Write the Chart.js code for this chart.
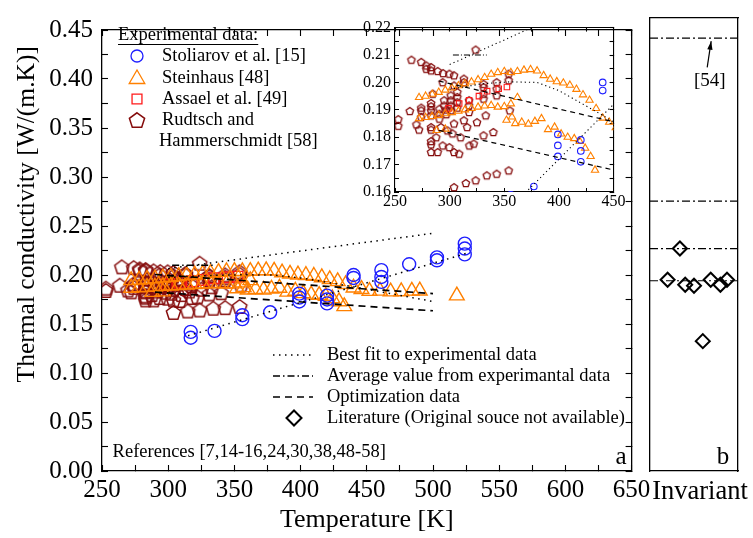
<!DOCTYPE html>
<html>
<head>
<meta charset="utf-8">
<script src="https://cdn.jsdelivr.net/npm/chart.js@4.4.0/dist/chart.umd.min.js"></script>
<style>
  html, body { margin: 0; padding: 0; background: #fff; }
  #wrap { position: relative; width: 753px; height: 538px; overflow: hidden; }
  canvas { position: absolute; }
</style>
</head>
<body>
<div id="wrap">
  <canvas id="mainChart" width="753" height="538" style="left:0;top:0;width:753px;height:538px"></canvas>
  <canvas id="sideChart" width="123" height="538" style="left:630px;top:0;width:123px;height:538px"></canvas>
  <canvas id="insetChart" width="300" height="215" style="left:330px;top:10px;width:300px;height:215px"></canvas>
</div>
<script>
const SERIF = '"Liberation Serif", "Times New Roman", serif';
Chart.defaults.font.family = SERIF;
Chart.defaults.color = '#000';

// Stoliarov et al. [15]
const stoliarovT = [317, 317, 335, 356, 356, 377, 399, 399, 399, 420, 420, 420, 440, 440, 461, 461, 461, 482, 503, 503, 524, 524, 524];
const stoliarovK = [0.142, 0.136, 0.143, 0.159, 0.155, 0.162, 0.181, 0.177, 0.173, 0.179, 0.175, 0.171, 0.200, 0.197, 0.205, 0.198, 0.193, 0.211, 0.218, 0.215, 0.232, 0.227, 0.221];

// Steinhaus [48]
const steinhausT = [272, 278, 284, 290, 296, 302, 308, 314, 320, 326, 332, 338, 344, 350, 356, 362, 368, 374, 380, 386, 392, 398, 404, 410, 416, 422, 428, 434, 440, 446,
  272, 278, 284, 290, 296, 302, 308, 314, 320, 326, 332, 338, 344, 350, 356, 362,
  288, 296, 352, 357, 360, 366, 372, 378, 384, 390, 396, 402, 408, 414, 419, 424, 429, 433,
  452, 460, 468, 476, 484, 490, 518];
const steinhausK = [0.1945, 0.1950, 0.1957, 0.1964, 0.1972, 0.1980, 0.1988, 0.1995, 0.2002, 0.2010, 0.2018, 0.2030, 0.2036, 0.2040, 0.2036, 0.2040, 0.2045, 0.2047, 0.2042, 0.2025, 0.2012, 0.2003, 0.1998, 0.1990, 0.1975, 0.1955, 0.1935, 0.1905, 0.1870, 0.1855,
  0.1868, 0.1872, 0.1876, 0.1880, 0.1886, 0.1890, 0.1895, 0.1900, 0.1905, 0.1910, 0.1914, 0.1916, 0.1910, 0.1912, 0.1922, 0.1945,
  0.1825, 0.1830, 0.1862, 0.1874, 0.1850, 0.1855, 0.1848, 0.1858, 0.1868, 0.1828, 0.1837, 0.1812, 0.1800, 0.1795, 0.1785, 0.1760, 0.1730, 0.1680,
  0.1835, 0.1838, 0.1830, 0.1832, 0.1838, 0.1840, 0.1790];

// Assael et al. [49]
const assaelT = [299, 308.7, 317.8, 326.8, 334.3, 344.9, 352.4];
const assaelK = [0.1905, 0.1923, 0.1935, 0.1950, 0.1968, 0.1977, 0.1983];

// Rudtsch and Hammerschmidt [58]
const rudtschT = [253, 253, 263.5, 265, 269.6, 272, 274, 274, 274, 274, 278.6, 278.6, 283, 283, 283, 283, 283, 283, 283, 283, 283, 283, 283, 284.6, 289, 289, 287.7, 290.6, 290.6, 290.6, 292, 293.6, 293.6, 294, 295, 295, 297, 297, 298, 299.7, 299.7, 301, 301, 301, 301, 304, 304, 304, 304, 307, 307, 307, 307, 308.7, 304, 313, 313, 313, 316, 314.8, 317.8, 317.8, 317.8, 323.8, 323.8, 325, 331, 331, 331, 331, 331, 334, 333, 340, 343, 343, 343, 343, 354, 354, 355, 322, 318, 302.6, 310, 354];
const rudtschK = [0.1866, 0.1842, 0.1896, 0.2083, 0.1847, 0.1828, 0.1908, 0.1898, 0.1874, 0.2075, 0.2062, 0.2050, 0.2056, 0.2044, 0.1925, 0.1913, 0.1898, 0.1880, 0.1837, 0.1828, 0.1786, 0.1774, 0.1746, 0.1959, 0.2042, 0.1746, 0.1800, 0.1904, 0.1886, 0.1868, 0.1837, 0.2001, 0.1770, 0.2034, 0.1935, 0.1916, 0.1901, 0.1884, 0.1825, 0.1764, 0.2032, 0.1953, 0.1935, 0.1916, 0.1898, 0.2026, 0.1989, 0.1850, 0.1746, 0.1965, 0.1947, 0.1928, 0.1908, 0.1740, 0.1618, 0.2014, 0.2001, 0.1862, 0.1837, 0.1633, 0.1935, 0.1916, 0.1892, 0.2120, 0.1643, 0.1855, 0.1983, 0.1959, 0.1941, 0.1995, 0.1807, 0.1661, 0.1880, 0.1819, 0.2001, 0.1977, 0.1953, 0.1667, 0.2032, 0.2008, 0.1898, 0.1777, 0.1770, 0.1814, 0.1800, 0.1679];

// fitted / average / optimization curves
const fitStoliarovT = [315, 525];
const fitStoliarovK = [0.138, 0.222];
const fitUpperT = [300, 500];
const fitUpperK = [0.2065, 0.2425];
const fitSteinhausT = [300, 330, 355, 380, 400, 420, 440, 470, 500];
const fitSteinhausK = [0.1975, 0.1995, 0.2002, 0.2000, 0.1970, 0.1925, 0.1880, 0.1805, 0.1730];
const averageT = [303, 334];
const averageK = [0.210, 0.210];
const optUpperT = [290, 500];
const optUpperK = [0.2005, 0.181];
const optLowerT = [290, 500];
const optLowerK = [0.1825, 0.1635];

// panel b: temperature-invariant values
const literatureX = [2.0, 3.4, 4.0, 5.0, 6.0, 6.9, 8.0, 8.75];
const literatureK = [0.190, 0.221, 0.185, 0.184, 0.129, 0.190, 0.185, 0.190];
const invariantAvgK = [0.430, 0.268, 0.221, 0.189];

const BLUE = '#1f1fff', ORANGE = '#ff8000', RED = '#ff1a1a', BROWN = '#850c0c';

function pts(xs, ys) { return xs.map((x, i) => ({ x: x, y: ys[i] })); }

function pentagonIcon(r, color, lw) {
  const size = Math.ceil(2 * r + lw + 2);
  const c = document.createElement('canvas');
  c.width = c.height = size;
  const g = c.getContext('2d');
  g.strokeStyle = color;
  g.lineWidth = lw;
  g.beginPath();
  for (let i = 0; i < 5; i++) {
    const a = -Math.PI / 2 + i * 2 * Math.PI / 5;
    const px = size / 2 + r * Math.cos(a), py = size / 2 + r * Math.sin(a) + r * 0.1;
    if (i) g.lineTo(px, py); else g.moveTo(px, py);
  }
  g.closePath();
  g.stroke();
  return c;
}

function markerSets(big) {
  const lw = big ? 1.4 : 1.1;
  function set(label, xs, ys, style, r, color, w) {
    return {
      label: label, data: pts(xs, ys), pointStyle: style, pointRadius: r,
      borderColor: color, pointBorderColor: color, backgroundColor: 'rgba(0,0,0,0)',
      pointBackgroundColor: 'rgba(0,0,0,0)', pointBorderWidth: w || lw, showLine: false
    };
  }
  return [
    set('Stoliarov et al. [15]', stoliarovT, stoliarovK, 'circle', big ? 6.5 : 3.3, BLUE),
    set('Steinhaus [48]', steinhausT, steinhausK, 'triangle', big ? 8.5 : 4.2, ORANGE),
    set('Assael et al. [49]', assaelT, assaelK, 'rect', big ? 7.5 : 3.9, RED),
    set('Rudtsch and Hammerschmidt [58]', rudtschT, rudtschK, pentagonIcon(big ? 7.5 : 3.9, BROWN, big ? 1.5 : 1.3), big ? 7.5 : 3.9, BROWN)
  ];
}

function lineSets(big) {
  const dot = big ? [1.5, 4.5] : [1.2, 3];
  const dash = big ? [7, 5] : [5, 4];
  const dashDot = big ? [7, 3, 1.5, 3] : [6, 2, 1, 2];
  function line(xs, ys, d, w) {
    return { data: pts(xs, ys), showLine: true, pointRadius: 0, borderColor: '#000', borderWidth: w, borderDash: d, fill: false };
  }
  return [
    line(fitStoliarovT, fitStoliarovK, dot, big ? 1.5 : 1.1),
    line(fitUpperT, fitUpperK, dot, big ? 1.5 : 1.1),
    line(fitSteinhausT, fitSteinhausK, dot, big ? 1.5 : 1.1),
    line(averageT, averageK, dashDot, big ? 1.5 : 1.1),
    line(optUpperT, optUpperK, dash, big ? 1.7 : 1.2),
    line(optLowerT, optLowerK, dash, big ? 1.7 : 1.2)
  ];
}

function drawMarker(ctx, style, r, x, y, color, lw) {
  ctx.save();
  ctx.strokeStyle = color;
  ctx.fillStyle = 'rgba(0,0,0,0)';
  ctx.lineWidth = lw;
  Chart.helpers.drawPoint(ctx, { pointStyle: style, radius: r, rotation: 0, borderWidth: lw }, x, y);
  ctx.restore();
}

// frame axis: border plus inward ticks, no labels
function frameAxis(pos, min, max, step, tl, bw) {
  const horizontal = pos === 'top' || pos === 'bottom';
  return {
    type: 'linear', position: pos, min: min, max: max,
    ticks: { display: false, stepSize: step, autoSkip: false, maxRotation: 0 },
    grid: { drawOnChartArea: false, tickLength: tl, tickColor: '#000', tickWidth: 1.1 },
    border: { color: '#000', width: bw },
    afterFit: horizontal ? (s => { s.height = 0; }) : (s => { s.width = 0; })
  };
}

const mainNotes = {
  id: 'mainNotes',
  afterDraw(chart) {
    const ctx = chart.ctx;
    const xs = chart.scales.x, ys = chart.scales.y;
    ctx.save();
    ctx.fillStyle = '#000';
    ctx.textBaseline = 'middle';

    // y axis title
    ctx.save();
    ctx.font = '25.5px ' + SERIF;
    ctx.textAlign = 'center';
    ctx.translate(27, ys.getPixelForValue(0.262));
    ctx.rotate(-Math.PI / 2);
    ctx.fillText('Thermal conductivity [W/(m.K)]', 0, 0);
    ctx.restore();

    ctx.font = '18.5px ' + SERIF;
    // experimental legend
    ctx.fillText('Experimental data:', 118, 35);
    ctx.fillRect(118, 44, ctx.measureText('Experimental data:').width, 1);
    const rows = [56, 78, 99, 120];
    drawMarker(ctx, 'circle', 6, 137, rows[0], BLUE, 1.3);
    drawMarker(ctx, 'triangle', 9, 137, rows[1] + 1, ORANGE, 1.3);
    drawMarker(ctx, 'rect', 7, 137, rows[2], RED, 1.3);
    drawMarker(ctx, pentagonIcon(8, BROWN, 1.5), 8, 137, rows[3], BROWN, 1.5);
    ctx.fillText('Stoliarov et al. [15]', 162, rows[0]);
    ctx.fillText('Steinhaus [48]', 162, rows[1]);
    ctx.fillText('Assael et al. [49]', 162, rows[2]);
    ctx.fillText('Rudtsch and', 162, rows[3]);
    ctx.fillText('Hammerschmidt [58]', 159, 141);

    // line legend
    const lrows = [355, 376, 397, 418];
    ctx.strokeStyle = '#000';
    ctx.lineWidth = 1.5;
    [[1.5, 4.5], [7, 3, 1.5, 3], [7, 5]].forEach((d, i) => {
      ctx.setLineDash(d);
      ctx.beginPath();
      ctx.moveTo(273, lrows[i]);
      ctx.lineTo(313, lrows[i]);
      ctx.stroke();
    });
    ctx.setLineDash([]);
    drawMarker(ctx, 'rectRot', 7.5, 294, lrows[3], '#000', 2);
    ctx.fillText('Best fit to experimental data', 327, lrows[0]);
    ctx.fillText('Average value from experimantal data', 327, lrows[1]);
    ctx.fillText('Optimization data', 327, lrows[2]);
    ctx.fillText('Literature (Original souce not available)', 327, lrows[3]);

    ctx.fillText('References [7,14-16,24,30,38,48-58]', xs.getPixelForValue(258), ys.getPixelForValue(0.0195));
    ctx.font = '25px ' + SERIF;
    ctx.textAlign = 'center';
    ctx.fillText('a', xs.getPixelForValue(642), ys.getPixelForValue(0.0135));
    ctx.restore();
  }
};

new Chart(document.getElementById('mainChart'), {
  type: 'scatter',
  data: { datasets: lineSets(true).concat(markerSets(true)) },
  options: {
    responsive: false, animation: false, events: [],
    layout: { padding: { left: 0, right: 121.4, top: 18, bottom: 0 } },
    plugins: { legend: { display: false }, tooltip: { enabled: false } },
    scales: {
      x: {
        type: 'linear', position: 'bottom', min: 250, max: 650,
        ticks: { stepSize: 25, autoSkip: false, maxRotation: 0, padding: 10.5, font: { size: 25 }, color: '#000',
          callback: v => (v % 50 === 0 ? String(v) : '') },
        grid: { drawOnChartArea: false, tickLength: -6, tickColor: '#000', tickWidth: 1.1 },
        border: { color: '#000', width: 1.3 },
        title: { display: true, text: 'Temperature [K]', font: { size: 26 }, color: '#000', padding: { top: 0, bottom: 2 } },
        afterFit: s => { s.height = 67; }
      },
      y: {
        type: 'linear', position: 'left', min: 0, max: 0.45,
        ticks: { stepSize: 0.025, autoSkip: false, padding: 15, font: { size: 25 }, color: '#000',
          callback: v => (Math.round(v * 1000) % 50 === 0 ? v.toFixed(2) : '') },
        grid: { drawOnChartArea: false, tickLength: -6, tickColor: '#000', tickWidth: 1.1 },
        border: { color: '#000', width: 1.3 },
        afterFit: s => { s.width = 102; }
      },
      x2: frameAxis('top', 250, 650, 25, -6, 1.3),
      y2: frameAxis('right', 0, 0.45, 0.025, -6, 1.3)
    }
  },
  plugins: [mainNotes]
});

new Chart(document.getElementById('insetChart'), {
  type: 'scatter',
  data: { datasets: lineSets(false).concat(markerSets(false)) },
  options: {
    responsive: false, animation: false, events: [],
    layout: { padding: { left: 0, right: 14, top: 17, bottom: 0 } },
    plugins: { legend: { display: false }, tooltip: { enabled: false } },
    scales: {
      x: {
        type: 'linear', position: 'bottom', min: 250, max: 450,
        ticks: { stepSize: 25, autoSkip: false, maxRotation: 0, padding: 4.4, font: { size: 16 }, color: '#000',
          callback: v => (v % 50 === 0 ? String(v) : '') },
        grid: { drawOnChartArea: false, tickLength: -4, tickColor: '#000', tickWidth: 1 },
        border: { color: '#000', width: 1.1 },
        afterFit: s => { s.height = 33; }
      },
      y: {
        type: 'linear', position: 'left', min: 0.16, max: 0.22,
        ticks: { stepSize: 0.005, autoSkip: false, padding: 8, font: { size: 16 }, color: '#000',
          callback: v => (Math.round(v * 1000) % 10 === 0 ? v.toFixed(2) : '') },
        grid: { drawOnChartArea: false, tickLength: -4, tickColor: '#000', tickWidth: 1 },
        border: { color: '#000', width: 1.1 },
        afterFit: s => { s.width = 65; }
      },
      x2: frameAxis('top', 250, 450, 25, -4, 1.1),
      y2: frameAxis('right', 0.16, 0.22, 0.005, -4, 1.1)
    }
  }
});

const sideNotes = {
  id: 'sideNotes',
  afterDraw(chart) {
    const ctx = chart.ctx;
    const xs = chart.scales.x, ys = chart.scales.y;
    ctx.save();
    ctx.fillStyle = '#000';
    ctx.strokeStyle = '#000';
    ctx.textAlign = 'center';
    ctx.textBaseline = 'middle';
    ctx.font = '19px ' + SERIF;
    ctx.fillText('[54]', xs.getPixelForValue(6.8), ys.getPixelForValue(0.3875));
    const x0 = xs.getPixelForValue(6.5), y0 = ys.getPixelForValue(0.401);
    const x1 = xs.getPixelForValue(6.95), y1 = ys.getPixelForValue(0.427);
    ctx.lineWidth = 1.2;
    ctx.beginPath();
    ctx.moveTo(x0, y0);
    ctx.lineTo(x1, y1);
    ctx.stroke();
    const ang = Math.atan2(y1 - y0, x1 - x0);
    ctx.beginPath();
    ctx.moveTo(x1, y1);
    ctx.lineTo(x1 - 9 * Math.cos(ang - 0.3), y1 - 9 * Math.sin(ang - 0.3));
    ctx.lineTo(x1 - 9 * Math.cos(ang + 0.3), y1 - 9 * Math.sin(ang + 0.3));
    ctx.closePath();
    ctx.fill();
    ctx.font = '25px ' + SERIF;
    ctx.fillText('b', xs.getPixelForValue(8.3), ys.getPixelForValue(0.0135));
    ctx.font = '26.5px ' + SERIF;
    ctx.fillText('Invariant', 70, 492);
    ctx.restore();
  }
};

const sideSets = invariantAvgK.map(k => ({
  data: pts([0, 10], [k, k]), showLine: true, pointRadius: 0, borderColor: '#000',
  borderWidth: 1.2, borderDash: [8, 3, 2, 3], fill: false
}));
sideSets.push({
  data: pts(literatureX, literatureK), pointStyle: 'rectRot', pointRadius: 7,
  pointBorderColor: '#000', borderColor: '#000', pointBackgroundColor: 'rgba(0,0,0,0)',
  backgroundColor: 'rgba(0,0,0,0)', pointBorderWidth: 2, showLine: false
});

new Chart(document.getElementById('sideChart'), {
  type: 'scatter',
  data: { datasets: sideSets },
  options: {
    responsive: false, animation: false, events: [],
    layout: { padding: { left: 0, right: 15, top: 18, bottom: 0 } },
    plugins: { legend: { display: false }, tooltip: { enabled: false } },
    scales: {
      x: {
        type: 'linear', position: 'bottom', min: 0, max: 10,
        ticks: { display: false }, grid: { display: false },
        border: { color: '#000', width: 1.3 },
        afterFit: s => { s.height = 67; }
      },
      y: {
        type: 'linear', position: 'left', min: 0, max: 0.45,
        ticks: { display: false }, grid: { display: false },
        border: { color: '#000', width: 1.3 },
        afterFit: s => { s.width = 20; }
      },
      x2: { type: 'linear', position: 'top', min: 0, max: 10, ticks: { display: false }, grid: { display: false },
        border: { color: '#000', width: 1.3 }, afterFit: s => { s.height = 0; } },
      y2: { type: 'linear', position: 'right', min: 0, max: 0.45, ticks: { display: false }, grid: { display: false },
        border: { color: '#000', width: 1.3 }, afterFit: s => { s.width = 0; } }
    }
  },
  plugins: [sideNotes]
});
</script>
</body>
</html>
